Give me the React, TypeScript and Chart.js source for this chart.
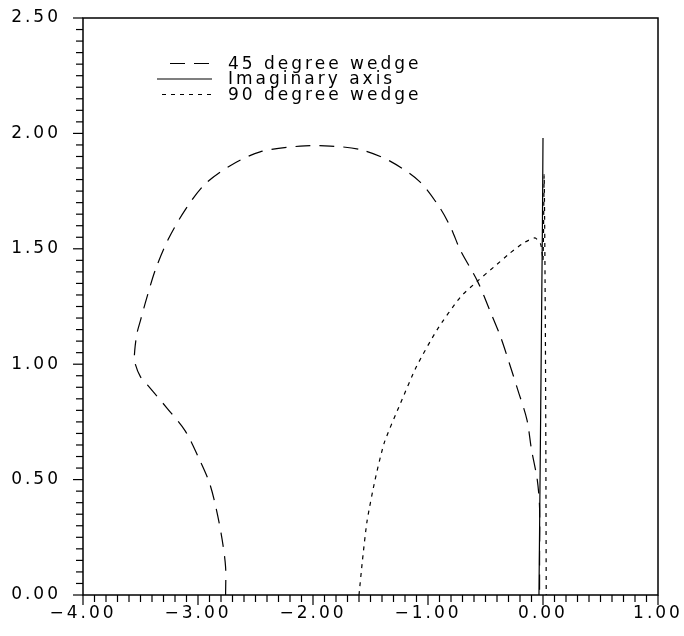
import React, { useEffect, useRef } from 'react';
import { Chart, registerables } from 'chart.js';

Chart.register(...registerables);

// 45 degree wedge (long dashes)
const wedge45X = [-2.76, -2.76, -2.79, -2.84, -2.9, -3.0, -3.11, -3.27, -3.44, -3.5, -3.55, -3.55, -3.53, -3.5, -3.45, -3.37, -3.26, -3.11, -2.94, -2.72, -2.46, -2.11, -1.85, -1.59, -1.33, -1.07, -0.9, -0.8, -0.72, -0.57, -0.46, -0.37, -0.29, -0.22, -0.14, -0.1, -0.05, -0.03, -0.03, -0.03];
const wedge45Y = [0, 0.12, 0.24, 0.37, 0.485, 0.6, 0.71, 0.81, 0.91, 0.945, 1.01, 1.06, 1.135, 1.19, 1.28, 1.41, 1.54, 1.67, 1.78, 1.86, 1.92, 1.945, 1.945, 1.93, 1.88, 1.79, 1.68, 1.59, 1.495, 1.36, 1.23, 1.12, 1.0, 0.89, 0.76, 0.63, 0.5, 0.38, 0.15, 0];

// Imaginary axis (solid)
const imagX = [-0.035, -0.02, -0.005, 0.0];
const imagY = [0, 0.8, 1.6, 1.98];

// 90 degree wedge (short dashes)
const wedge90X = [-1.6, -1.57, -1.53, -1.46, -1.38, -1.24, -1.1, -0.92, -0.72, -0.57, -0.43, -0.29, -0.17, -0.07, -0.02, 0.0, 0.01, 0.02, 0.025, 0.028];
const wedge90Y = [0, 0.15, 0.32, 0.5, 0.66, 0.83, 0.99, 1.15, 1.29, 1.36, 1.42, 1.48, 1.525, 1.547, 1.52, 1.45, 1.82, 1.2, 0.6, 0];

const xTickLabels = ['\u22124.00', '\u22123.00', '\u22122.00', '\u22121.00', '0.00', '1.00'];
const yTickLabels = ['0.00', '0.50', '1.00', '1.50', '2.00', '2.50'];
const legendLabels = ['45 degree wedge', 'Imaginary axis', '90 degree wedge'];

const FONT = 'DejaVu Sans';
const SPACING = '3px';

const toPoints = (xs: number[], ys: number[]) => xs.map((x, i) => ({ x, y: ys[i] }));

const spacingPlugin = {
  id: 'spacing',
  beforeUpdate(chart: any) { chart.ctx.letterSpacing = SPACING; },
  beforeLayout(chart: any) { chart.ctx.letterSpacing = SPACING; },
  beforeDraw(chart: any) { chart.ctx.letterSpacing = SPACING; },
};

const framePlugin = {
  id: 'frame',
  afterDraw(chart: any) {
    const { ctx, chartArea, scales } = chart;
    const { left, right, top, bottom } = chartArea;
    ctx.save();
    ctx.strokeStyle = '#000';
    ctx.lineWidth = 1.5;
    ctx.setLineDash([]);
    ctx.strokeRect(left, top, right - left, bottom - top);
    ctx.lineWidth = 1.2;
    for (let i = -40; i <= 10; i++) {
      const px = scales.x.getPixelForValue(i / 10);
      const len = i % 10 === 0 ? 10 : 7;
      ctx.beginPath();
      ctx.moveTo(px, bottom);
      ctx.lineTo(px, bottom + len);
      ctx.stroke();
    }
    for (let i = 0; i <= 50; i++) {
      const py = scales.y.getPixelForValue(i / 20);
      const len = i % 10 === 0 ? 10 : 7;
      ctx.beginPath();
      ctx.moveTo(left, py);
      ctx.lineTo(left - len, py);
      ctx.stroke();
    }
    ctx.letterSpacing = SPACING;
    ctx.font = `17px "${FONT}"`;
    ctx.fillStyle = '#000';
    ctx.textBaseline = 'middle';
    ctx.textAlign = 'left';
    const rowsY = [63.5, 79, 94.5];
    const starts = [170, 157, 162];
    chart.data.datasets.forEach((ds: any, i: number) => {
      const y = top + (rowsY[i] - 18);
      ctx.save();
      ctx.strokeStyle = ds.borderColor;
      ctx.lineWidth = ds.borderWidth;
      ctx.setLineDash(ds.borderDash || []);
      ctx.beginPath();
      ctx.moveTo(starts[i], y);
      ctx.lineTo(212, y);
      ctx.stroke();
      ctx.restore();
      ctx.fillText(legendLabels[i], 228, y + 1);
    });
    ctx.restore();
  },
};

export default function App() {
  const ref = useRef<HTMLCanvasElement | null>(null);
  useEffect(() => {
    if (!ref.current) return;
    const chart = new Chart(ref.current, {
      type: 'scatter',
      data: {
        datasets: [
          {
            label: legendLabels[0],
            data: toPoints(wedge45X, wedge45Y),
            showLine: true,
            borderColor: '#000',
            borderWidth: 1.2,
            borderDash: [15, 9],
            pointRadius: 0,
            tension: 0.3,
          },
          {
            label: legendLabels[1],
            data: toPoints(imagX, imagY),
            showLine: true,
            borderColor: '#000',
            borderWidth: 1.2,
            pointRadius: 0,
            tension: 0,
          },
          {
            label: legendLabels[2],
            data: toPoints(wedge90X, wedge90Y),
            showLine: true,
            borderColor: '#000',
            borderWidth: 1.2,
            borderDash: [4, 5],
            pointRadius: 0,
            tension: 0.2,
          },
        ],
      },
      options: {
        animation: false,
        responsive: false,
        events: [],
        layout: { padding: { top: 18, right: 26, left: 0, bottom: 0 } },
        plugins: { legend: { display: false }, tooltip: { enabled: false } },
        scales: {
          x: {
            type: 'linear',
            min: -4,
            max: 1,
            grid: { display: false, drawTicks: false },
            border: { display: false },
            ticks: {
              stepSize: 1,
              padding: 8,
              color: '#000',
              maxRotation: 0,
              font: { family: FONT, size: 17 },
              callback: (_v: any, i: number) => xTickLabels[i],
            },
            afterFit: (s: any) => {
              s.height = 41;
              s.paddingLeft = 0;
              s.paddingRight = 0;
            },
          },
          y: {
            type: 'linear',
            min: 0,
            max: 2.5,
            grid: { display: false, drawTicks: false },
            border: { display: false },
            ticks: {
              stepSize: 0.5,
              padding: 22,
              color: '#000',
              font: { family: FONT, size: 17 },
              callback: (_v: any, i: number) => yTickLabels[i],
            },
            afterFit: (s: any) => {
              s.width = 83;
              s.paddingTop = 0;
              s.paddingBottom = 0;
            },
          },
        },
      },
      plugins: [spacingPlugin, framePlugin],
    });
    return () => chart.destroy();
  }, []);
  return (
    <div style={{ position: 'absolute', left: 0, top: 0, width: 684, height: 636, background: '#fff' }}>
      <canvas ref={ref} width={684} height={636} style={{ display: 'block' }} />
    </div>
  );
}
